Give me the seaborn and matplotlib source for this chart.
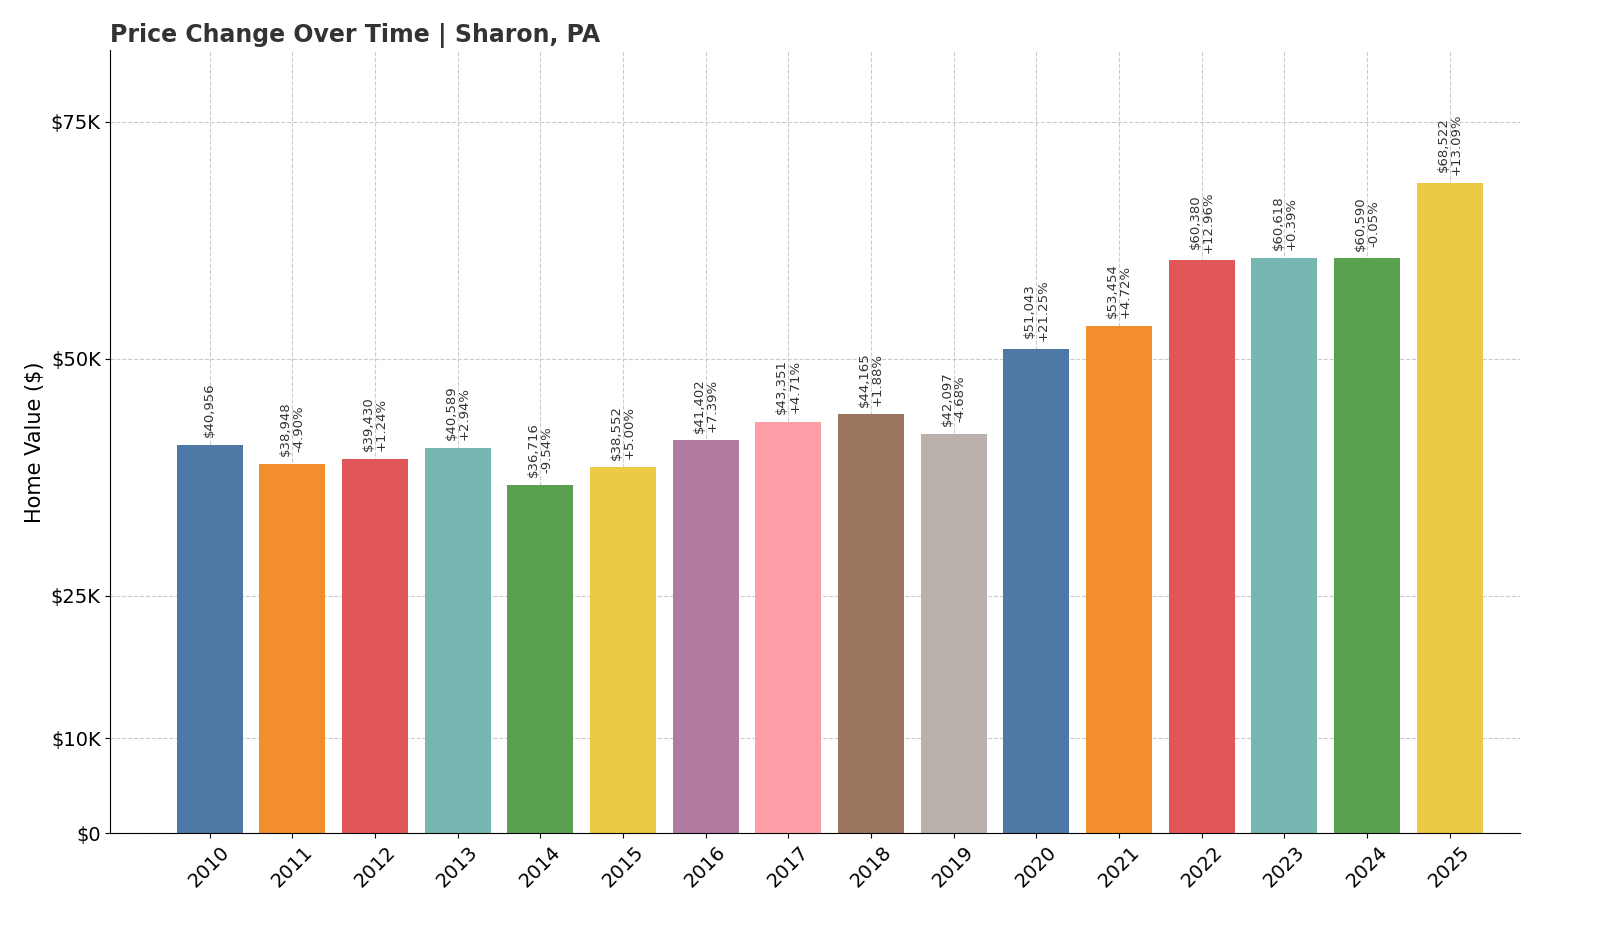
import matplotlib
matplotlib.use("Agg")
import matplotlib.pyplot as plt
import seaborn as sns
import pandas as pd

years = [str(y) for y in range(2010, 2026)]
values = [40956, 38948, 39430, 40589, 36716, 38552, 41402, 43351, 44165, 42097,
          51043, 53454, 60380, 60618, 60590, 68522]
changes = [None, "-4.90%", "+1.24%", "+2.94%", "-9.54%", "+5.00%", "+7.39%", "+4.71%",
           "+1.88%", "-4.68%", "+21.25%", "+4.72%", "+12.96%", "+0.39%", "-0.05%", "+13.09%"]
palette = ["#4e79a7", "#f28e2b", "#e15759", "#76b7b2", "#59a14f", "#edc948", "#b07aa1",
           "#ff9da7", "#9c755f", "#bab0ac"]
colors = [palette[i % 10] for i in range(len(years))]

df = pd.DataFrame({"year": years, "value": values})
fig = plt.figure(figsize=(16, 9.33), dpi=100)
ax = fig.add_axes([0.069, 0.107, 0.881, 0.839])
sns.barplot(data=df, x="year", y="value", hue="year", palette=colors, legend=False,
            width=0.8, saturation=1, ax=ax, zorder=2)
for i, (v, c) in enumerate(zip(values, changes)):
    txt = f"${v:,}" if c is None else f"${v:,}\n{c}"
    ax.text(i, v + 800, txt, rotation=90, ha="center", va="bottom", fontsize=9.5,
            color="#333333", linespacing=1.0)
ax.set_ylim(0, 82500)
ax.set_xlim(-1.2, 15.85)
ax.set_yticks([0, 10000, 25000, 50000, 75000])
ax.set_yticklabels(["$0", "$10K", "$25K", "$50K", "$75K"], fontsize=14)
ax.tick_params(axis="x", labelsize=14, labelrotation=45)
ax.grid(True, linestyle="--", color="#cccccc", linewidth=0.8, zorder=0)
ax.set_axisbelow(True)
ax.spines["top"].set_visible(False)
ax.spines["right"].set_visible(False)
ax.set_xlabel("")
ax.set_ylabel("Home Value ($)", fontsize=15)
ax.set_title("Price Change Over Time | Sharon, PA", loc="left", fontsize=17,
             fontweight="bold", color="#333333")
fig.savefig("out.png", dpi=100)
